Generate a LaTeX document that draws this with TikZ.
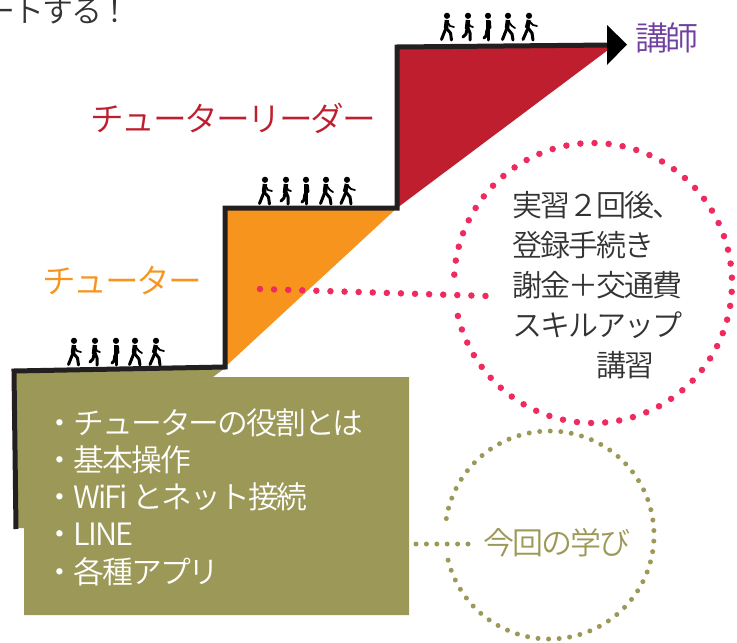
\documentclass[tikz,border=0pt]{standalone}
\usepackage{fontspec}
\newfontfamily\jpf[UprightFont=* DemiLight,LetterSpace=-6.5]{Noto Sans CJK JP}
\newcommand{\jpsz}[1]{\jpf\fontsize{#1pt}{#1pt}\selectfont}
\definecolor{stepblack}{HTML}{231F20}
\definecolor{oliveb}{HTML}{9C9958}
\definecolor{orangeb}{HTML}{F7941E}
\definecolor{redb}{HTML}{BE1E2D}
\definecolor{pinkd}{HTML}{EE2A5E}
\definecolor{purplet}{HTML}{7040A0}
\definecolor{greyt}{HTML}{333333}
\tikzset{
  lbl/.style={inner sep=0pt,outer sep=0pt},
  pinkdots/.style={draw=pinkd,line width=6.5pt,line cap=round,dash pattern=on 0pt off 14.15pt},
  olivedots/.style={draw=oliveb,line width=5pt,line cap=round,dash pattern=on 0pt off 10.57pt},
  limb/.style={line width=3pt,line cap=round,line join=round,black},
  thin limb/.style={line width=1.8pt,line cap=round,line join=round,black},
  walkA/.pic={\fill (0,2.8) circle (3.1);\draw[line width=4.5pt] (0,7)--(-1,15);\draw[limb] (-1,15)--(-5.5,26.5);\draw[limb] (-1,15)--(3.5,20)--(4.5,27);\draw[thin limb] (0,8)--(3,13)--(7,14);},
  walkB/.pic={\fill (0,2.8) circle (3.1);\draw[line width=4.5pt] (0,7)--(-1,16);\draw[limb] (-1,16)--(-2,21)--(-5,24);\draw[limb] (0,15)--(2,20)--(2,27);\draw[thin limb] (0,8)--(2,13)--(5,14);},
  walkC/.pic={\fill (0,2.8) circle (3.1);\draw[line width=4.5pt] (0,7)--(0,18);\draw[limb] (0,17)--(0,27);\draw[limb] (-1,17)--(-2,23)--(-4,25);\draw[thin limb] (2,8)--(2.5,15);},
  walkD/.pic={\fill (0,2.8) circle (3.1);\draw[line width=4.5pt] (0,7)--(-1,15);\draw[limb] (-1,15)--(-5.5,26.5);\draw[limb] (-1,15)--(4,21)--(5,27);\draw[thin limb] (0,8)--(4,13)--(7,15);},
  walkE/.pic={\fill (0,2.8) circle (3.1);\draw[line width=4.5pt] (0,7)--(-2,15);\draw[limb] (-1,15)--(-6,26.5);\draw[limb] (-1,15)--(3,20)--(4,27);\draw[thin limb] (0,8)--(4,12)--(8,13);},
  x=1pt,y=-1pt
}
\newcommand{\walkers}[6]{%
  \pic at (#1,#6) {walkA};\pic at (#2,#6) {walkB};\pic at (#3,#6) {walkC};\pic at (#4,#6) {walkD};\pic at (#5,#6) {walkE};}
\begin{document}
\begin{tikzpicture}
\useasboundingbox (0,0) rectangle (737,643);
% fills
\fill[oliveb] (15,372)--(225,368)--(213,377)--(409,377)--(409,615)--(24,615)--(24,528)--(15,528)--cycle;
\fill[orangeb] (225,208)--(397,208)--(225,367)--cycle;
\fill[redb] (397,47)--(612,47)--(397,208)--cycle;
% stair line
\coordinate (s0) at (16,529);
\coordinate (s1) at (14,371);
\coordinate (s2) at (225,367);
\coordinate (s3) at (225,208);
\coordinate (s4) at (397,208);
\coordinate (s5) at (397,47);
\coordinate (s6) at (610,45);
\draw[stepblack,line width=5pt,line join=miter] (s0)--(s1)--(s2)--(s3)--(s4)--(s5)--(s6);
\fill[black] (607,25)--(627,44.5)--(607,65)--cycle;
% walkers
\walkers{74}{95}{116}{135}{156}{338}
\walkers{265}{286}{306}{326}{347}{177}
\walkers{447}{468}{488}{508}{529}{13}
% labels
\node[lbl,anchor=east,text=greyt] (top) at (131,11) {\jpsz{31}ートする！};
\node[lbl,anchor=west,text=redb] (leader) at (90,118) {\jpsz{33.7}チューターリーダー};
\node[lbl,anchor=west,text=orangeb] (tutor) at (42,281) {\jpsz{33.7}チューター};
\node[lbl,anchor=west,text=purplet] (kou) at (635,38) {\jpsz{33}講師};
% rings
\draw[pinkdots] plot[domain=166.4:-176.7,samples=300] ({593+139*cos(\x)},{283+140*sin(\x)});
\draw[olivedots] plot[domain=166:-176.7,samples=300] ({549.5+104.5*cos(\x)},{535+104*sin(\x)});
\coordinate (pstart) at (260,289);
\coordinate (pend) at (487,296);
\coordinate (ostart) at (416,544);
\coordinate (oend) at (469,544);
\draw[pinkdots,dash pattern=on 0pt off 14.1pt] (pstart)--(pend);
\draw[olivedots,dash pattern=on 0pt off 10.4pt] (ostart)--(oend);
% ring texts
\foreach \n/\y/\t in {a/205/実習２回後、,b/245/登録手続き,c/285/謝金＋交通費,d/325/スキルアップ}{
  \node[lbl,anchor=west,text=greyt] (p\n) at (512,\y) {\jpsz{30}\t};}
\node[lbl,anchor=west,text=greyt] (pe) at (596,365) {\jpsz{30}講習};
\node[lbl,text=oliveb] (oc) at (557,543) {\jpsz{31}今回の学び};
% box text
\foreach \n/\y/\t in {1/423/・チューターの役割とは,2/460/・基本操作,3/497/・WiFi とネット接続,4/534/・LINE,5/572/・各種アプリ}{
  \node[lbl,anchor=west,text=white] (b\n) at (45,\y) {\jpsz{30.8}\t};}
\end{tikzpicture}
\end{document}
